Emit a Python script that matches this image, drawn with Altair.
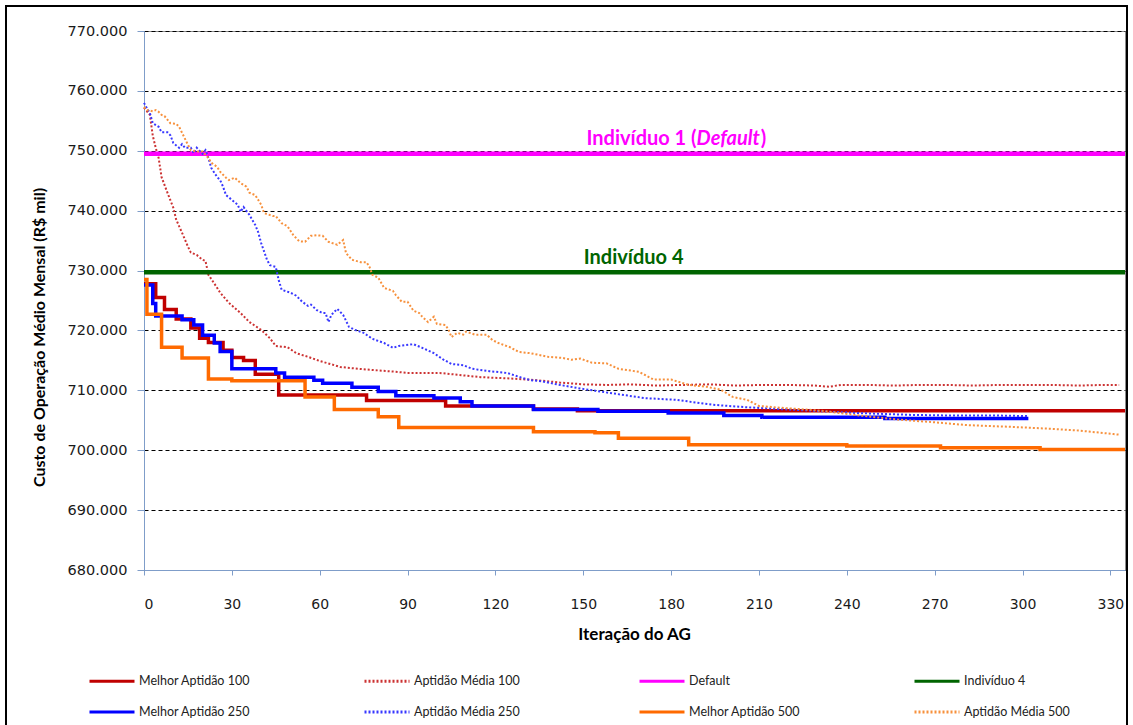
import altair as alt
import pandas as pd

# Series (legend order) and their styles
SERIES = ["Melhor Aptidão 100", "Aptidão Média 100", "Default", "Indivíduo 4",
          "Melhor Aptidão 250", "Aptidão Média 250", "Melhor Aptidão 500", "Aptidão Média 500"]
COLORS = ["#C00000", "#CC3333", "#FF00FF", "#006400",
          "#0000FF", "#3838FF", "#FF6A00", "#F7913D"]
DASHES = [[1, 0], [2, 2], [1, 0], [1, 0], [1, 0], [2, 2], [1, 0], [2, 2]]

X_TICKS = list(range(0, 331, 30))
Y_TICKS = list(range(680000, 770001, 10000))
X_MAX = 335

# Best fitness per iteration (R$ mil, thousands)
best100_iter = [0, 4, 7, 11, 16, 19, 22, 27, 30, 34, 38, 46, 76, 103, 133, 148, 335]
best100_cost = [727.8, 725.5, 723.5, 721.9, 720.4, 718.7, 718.0, 716.7, 715.5, 715.0,
                712.7, 709.2, 708.3, 707.4, 706.9, 706.6, 706.6]

best250_iter = [0, 3, 4, 13, 17, 20, 24, 26, 30, 45, 48, 58, 61, 71, 80, 86, 99, 108, 112,
                133, 155, 179, 198, 211, 253, 302]
best250_cost = [727.6, 724.5, 722.4, 721.8, 720.9, 719.2, 717.9, 716.5, 713.6, 712.9,
                712.2, 711.7, 711.2, 710.5, 709.8, 709.1, 708.7, 708.1, 707.4, 706.8,
                706.5, 706.2, 705.8, 705.5, 705.3, 705.3]

best500_iter = [0, 1, 6, 13, 22, 30, 55, 65, 80, 87, 133, 154, 162, 186, 240, 272, 306, 335]
best500_cost = [728.5, 722.7, 717.2, 715.4, 711.9, 711.6, 708.9, 706.8, 705.6, 703.8,
                703.1, 702.9, 702.0, 700.9, 700.7, 700.4, 700.1, 700.1]

# Mean fitness per iteration
mean100_iter = [0, 2, 3, 4, 5, 6, 8, 10, 11, 13, 15, 16, 18, 20, 21, 22, 25, 26, 29, 33,
                36, 40, 43, 45, 49, 52, 56, 60, 65, 67, 73, 78, 86, 90, 101, 107, 115, 124,
                134, 142, 150, 158, 166, 175, 184, 193, 202, 211, 220, 229, 234, 238, 247,
                256, 265, 274, 283, 292, 301, 310, 319, 328, 333]
mean100_cost = [757.2, 756.0, 752.5, 750.5, 748.8, 745.6, 743.0, 740.5, 738.5, 736.3,
                734.0, 733.0, 732.6, 731.8, 731.6, 729.3, 727.1, 726.3, 724.6, 722.9,
                721.4, 720.1, 718.7, 717.4, 717.2, 716.2, 715.6, 714.9, 714.2, 713.9,
                713.6, 713.4, 713.1, 712.9, 712.9, 712.6, 712.2, 712.0, 711.7, 711.3,
                711.0, 710.9, 711.0, 710.8, 710.9, 711.0, 710.8, 710.9, 710.9, 710.8,
                710.6, 710.9, 710.9, 710.8, 710.9, 710.9, 710.8, 710.9, 710.9, 710.9,
                710.8, 710.9, 710.9]

mean250_iter = [0, 1, 2, 3, 5, 6, 8, 9, 10, 12, 13, 14, 16, 17, 18, 20, 21, 22, 23, 25,
                26, 27, 28, 30, 32, 33, 34, 36, 38, 39, 40, 42, 43, 45, 46, 47, 50, 52, 54,
                56, 57, 59, 61, 62, 63, 64, 66, 67, 68, 70, 72, 75, 78, 82, 85, 87, 92, 95,
                99, 102, 105, 109, 112, 118, 124, 129, 132, 136, 141, 149, 160, 171, 182,
                194, 205, 216, 228, 239, 250, 262, 275, 290, 302]
mean250_cost = [758.0, 757.1, 756.3, 754.6, 754.0, 753.1, 753.1, 752.6, 751.3, 750.5,
                751.1, 750.5, 750.5, 749.6, 750.5, 749.5, 750.1, 748.8, 747.1, 745.6,
                745.1, 744.0, 742.6, 741.8, 741.0, 739.8, 740.6, 739.3, 737.6, 736.4,
                734.6, 731.8, 730.9, 730.6, 728.4, 726.8, 726.3, 725.8, 724.8, 724.1,
                724.3, 723.4, 722.9, 722.9, 721.4, 722.6, 723.6, 723.1, 722.6, 720.6,
                720.1, 719.6, 718.6, 717.9, 717.1, 717.4, 717.7, 717.1, 716.2, 715.2,
                714.4, 714.2, 713.6, 713.2, 712.9, 712.1, 711.7, 711.5, 711.0, 710.3,
                709.5, 708.7, 708.4, 707.6, 707.2, 706.9, 706.6, 706.3, 706.1, 705.9,
                705.8, 705.8, 705.7]

mean500_iter = [0, 1, 3, 4, 5, 6, 7, 9, 11, 12, 13, 15, 16, 18, 20, 22, 23, 25, 26, 28,
                29, 31, 33, 35, 36, 38, 40, 41, 44, 45, 47, 49, 51, 53, 55, 57, 59, 61, 63,
                66, 68, 69, 71, 74, 76, 77, 78, 80, 82, 85, 86, 88, 90, 92, 94, 95, 97, 99,
                100, 103, 104, 105, 107, 109, 110, 113, 117, 119, 121, 125, 128, 132, 135,
                138, 143, 146, 149, 153, 158, 162, 169, 174, 180, 186, 192, 197, 201, 206,
                210, 217, 223, 231, 241, 248, 258, 269, 281, 296, 309, 319, 331, 333]
mean500_cost = [757.3, 756.8, 756.6, 756.8, 756.5, 756.0, 755.8, 754.6, 754.5, 754.0,
                753.0, 751.0, 750.1, 749.9, 749.9, 748.8, 748.0, 747.3, 746.5, 745.5,
                745.1, 745.5, 744.6, 744.0, 743.0, 742.6, 741.0, 739.6, 739.1, 739.1,
                737.9, 737.4, 735.9, 734.9, 734.8, 735.8, 735.9, 735.8, 734.8, 734.3,
                735.1, 732.9, 731.8, 731.4, 731.4, 730.6, 729.3, 728.8, 727.1, 726.6,
                725.9, 724.8, 724.8, 723.3, 722.9, 722.3, 721.4, 722.3, 721.1, 720.9,
                720.1, 718.9, 719.6, 719.3, 719.8, 719.3, 719.3, 718.4, 717.9, 717.2,
                716.4, 716.2, 715.9, 715.6, 715.4, 715.1, 715.3, 714.6, 714.5, 713.6,
                713.1, 711.8, 711.8, 710.9, 710.6, 710.1, 708.9, 708.4, 707.4, 707.1,
                706.9, 706.6, 706.0, 705.6, 705.1, 704.7, 704.2, 703.9, 703.6, 703.3,
                702.7, 702.6]

# Reference individuals (constant cost)
default_cost = 749.5
ind4_cost = 729.7


def serie(nome, iters, custos):
    return pd.DataFrame({"iteracao": iters,
                         "custo": [round(c * 1000) for c in custos],
                         "serie": nome})


legend = alt.Legend(title=None, orient="none", direction="horizontal",
                    legendX=-56, legendY=626, columns=4,
                    symbolType="stroke", symbolSize=2025, symbolStrokeWidth=3,
                    labelFont="Lato", labelFontSize=12.5, labelColor="#222222",
                    labelOffset=3, labelLimit=300, columnPadding=107, rowPadding=-23,
                    gridAlign="all")

x = alt.X("iteracao:Q",
          scale=alt.Scale(domain=[0, X_MAX], nice=False),
          axis=alt.Axis(values=X_TICKS, title="Iteração do AG", grid=False,
                        domainColor="#7F9DC9", tickColor="#7F9DC9", tickSize=5,
                        labelPadding=22, labelFont="DejaVu Sans", labelFontSize=14,
                        labelColor="#1A1A1A", titleFont="Lato", titleFontSize=17,
                        titleFontWeight="bold", titleColor="#000000",
                        titleX=490, titleY=64, titleBaseline="middle"))
y = alt.Y("custo:Q",
          scale=alt.Scale(domain=[680000, 770000], nice=False, zero=False),
          axis=alt.Axis(values=Y_TICKS,
                        labelExpr="replace(format(datum.value, ','), ',', '.')",
                        title="Custo de Operação Médio Mensal (R$ mil)",
                        grid=True, gridColor="#000000", gridDash=[4, 3], gridWidth=1,
                        domainColor="#7F9DC9", tickColor="#7F9DC9", tickSize=7,
                        labelPadding=10, labelFont="DejaVu Sans", labelFontSize=14.5,
                        labelColor="#1A1A1A", titleFont="Lato", titleFontSize=16,
                        titleFontWeight="bold", titleColor="#000000",
                        titleAngle=270, titleX=-105, titleY=306,
                        titleAlign="center", titleBaseline="middle"))
color = alt.Color("serie:N", scale=alt.Scale(domain=SERIES, range=COLORS), legend=legend)
dash = alt.StrokeDash("serie:N", scale=alt.Scale(domain=SERIES, range=DASHES), legend=legend)


def step_layer(df, width):
    return alt.Chart(df).mark_line(interpolate="step-after", strokeWidth=width).encode(
        x=x, y=y, color=color, strokeDash=dash)


def dotted_layer(df):
    return alt.Chart(df).mark_line(strokeWidth=2).encode(
        x=x, y=y, color=color, strokeDash=dash)


layers = [
    step_layer(serie(SERIES[0], best100_iter, best100_cost), 3.5),
    dotted_layer(serie(SERIES[1], mean100_iter, mean100_cost)),
    step_layer(serie(SERIES[2], [0, X_MAX], [default_cost] * 2), 4.5),
    step_layer(serie(SERIES[3], [0, X_MAX], [ind4_cost] * 2), 4.5),
    step_layer(serie(SERIES[4], best250_iter, best250_cost), 3.5),
    dotted_layer(serie(SERIES[5], mean250_iter, mean250_cost)),
    step_layer(serie(SERIES[6], best500_iter, best500_cost), 3.5),
    dotted_layer(serie(SERIES[7], mean500_iter, mean500_cost)),
]


# Annotations for the two reference individuals
def note(it, cost, text, color_, align, style="normal"):
    df = pd.DataFrame({"iteracao": [it], "custo": [cost], "texto": [text]})
    return alt.Chart(df).mark_text(font="Lato", fontSize=20, fontWeight="bold",
                                   fontStyle=style, color=color_, align=align,
                                   baseline="middle").encode(
        x="iteracao:Q", y="custo:Q", text="texto:N")


layers += [
    note(188.7, 752000, "Indivíduo 1 (", "#FF00FF", "right"),
    note(188.7, 752000, "Default", "#FF00FF", "left", "italic"),
    note(210.6, 752000, ")", "#FF00FF", "left"),
    note(167.2, 732100, "Indivíduo 4", "#006400", "center"),
]

# Outer chart frame
frame = alt.Chart(pd.DataFrame({"k": [0]})).mark_rect(
    fillOpacity=0, stroke="#000000", strokeWidth=2).encode(
    x=alt.value(-138), x2=alt.value(983), y=alt.value(-25), y2=alt.value(720))
layers.append(frame)

chart = alt.layer(*layers).properties(
    width=981, height=539,
    autosize=alt.AutoSizeParams(type="none"),
    padding={"left": 144, "top": 31, "right": 8, "bottom": 155},
    background="#FFFFFF",
).configure_view(stroke="#8C8C8C", strokeWidth=1)

chart.save("out.html", embed_options={"renderer": "svg", "actions": False})
